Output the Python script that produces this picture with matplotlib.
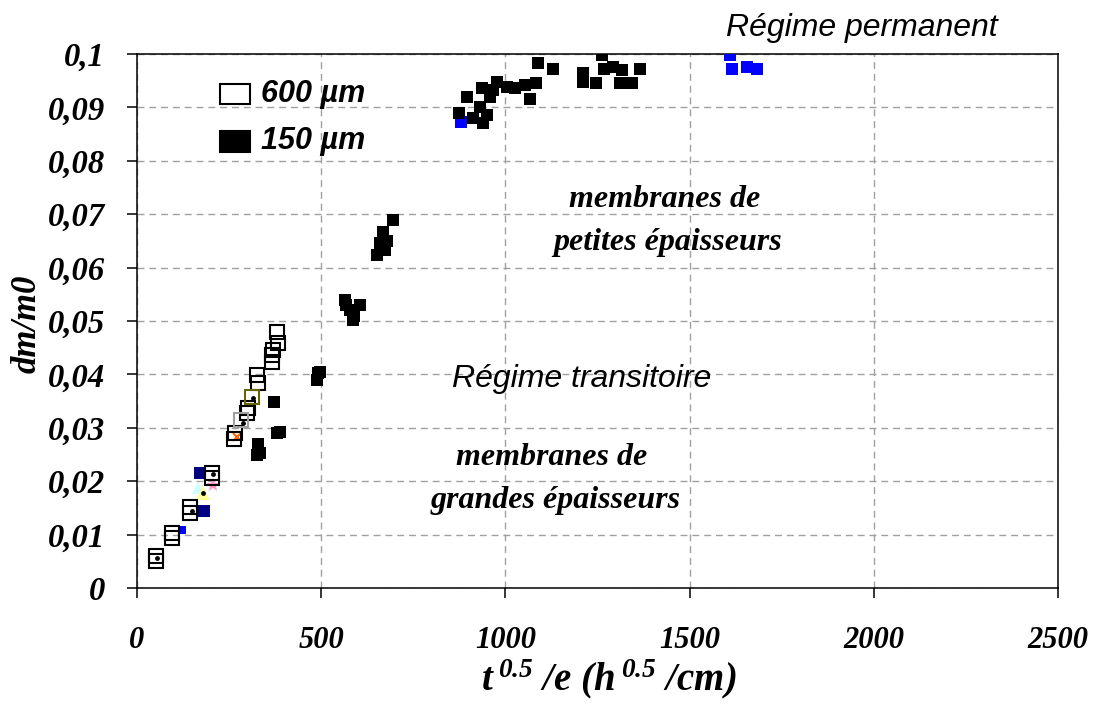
import matplotlib
matplotlib.use('Agg')
import matplotlib.pyplot as plt
from matplotlib.patches import Rectangle
from matplotlib.ticker import FuncFormatter, MultipleLocator

plt.rcParams['font.family'] = 'Liberation Serif'
plt.rcParams['font.weight'] = 'bold'
plt.rcParams['font.style'] = 'italic'
plt.rcParams['axes.labelweight'] = 'bold'
plt.rcParams['mathtext.fontset'] = 'custom'
plt.rcParams['mathtext.rm'] = 'Liberation Serif:bold:italic'
plt.rcParams['mathtext.it'] = 'Liberation Serif:bold:italic'
plt.rcParams['mathtext.bf'] = 'Liberation Serif:bold:italic'
plt.rcParams['mathtext.default'] = 'rm'

# 600 um membranes (open squares)
x600 = [52, 52, 95, 95, 145, 145, 203, 203, 263, 265, 298, 300, 325, 328,
        366, 366, 369, 380, 383]
y600 = [0.0051, 0.0060, 0.0094, 0.0103, 0.0140, 0.0152, 0.0206, 0.0215,
        0.0279, 0.0290, 0.0328, 0.0337, 0.0399, 0.0384, 0.0423, 0.0436,
        0.0446, 0.0480, 0.0459]
# odd series drawn as coloured open squares
x_grey, y_grey = [282], [0.0315]
x_olive, y_olive = [312], [0.0358]

# 150 um membranes (filled squares)
x150 = [372, 380, 388, 328, 325, 335,
        491, 489, 497, 564, 567, 578, 586, 590, 605,
        651, 659, 667, 673, 678, 694,
        874, 895, 912, 931, 939, 949, 958, 936, 966, 976, 1004, 1026, 1053,
        1066, 1083, 1089, 1129, 1211, 1211, 1245, 1261, 1267, 1292, 1316,
        1311, 1343, 1365]
y150 = [0.0348, 0.0290, 0.0293, 0.0270, 0.0250, 0.0253,
        0.0403, 0.0390, 0.0405, 0.0540, 0.0530, 0.0520, 0.0502, 0.0510, 0.0530,
        0.0624, 0.0646, 0.0667, 0.0633, 0.0650, 0.0690,
        0.0890, 0.0920, 0.0880, 0.0900, 0.0870, 0.0886, 0.0920, 0.0936, 0.0933,
        0.0948, 0.0938, 0.0936, 0.0942, 0.0916, 0.0946, 0.0983, 0.0972, 0.0964,
        0.0948, 0.0946, 0.0998, 0.0972, 0.0975, 0.0970, 0.0946, 0.0946, 0.0972]

# steady state (blue)
x_perm = [880, 1609, 1614, 1655, 1682]
y_perm = [0.0872, 0.0998, 0.0972, 0.0975, 0.0972]

# other small series near the origin
x_navy, y_navy = [171, 182], [0.0215, 0.0144]
x_blue, y_blue = [122], [0.0108]
x_yel, y_yel = [180], [0.0178]
x_cyan, y_cyan = [165], [0.0187]
x_pink, y_pink = [206], [0.0192]
x_orng, y_orng = [271], [0.0283]
x_dot = [54, 149, 179, 206, 288, 315]
y_dot = [0.0056, 0.0145, 0.0178, 0.0213, 0.0309, 0.0356]

fig = plt.figure(figsize=(10.95, 7.08), dpi=100)
ax = fig.add_axes([137 / 1095, 120 / 708, 921 / 1095, 534 / 708])

ax.plot(x_perm, y_perm, ls='none', marker='s', ms=8.5, color='#0000FF', mew=0, zorder=3)
ax.plot(x150, y150, ls='none', marker='s', ms=9, color='black', mew=0, zorder=4)
ax.plot(x_navy, y_navy, ls='none', marker='s', ms=8.5, color='#000080', mew=0, zorder=3)
ax.plot(x_blue, y_blue, ls='none', marker='s', ms=5.5, color='#0000FF', mew=0, zorder=3)
ax.plot(x_yel, y_yel, ls='none', marker='^', ms=10, color='#FFFF99', mew=0, zorder=3)
ax.plot(x_cyan, y_cyan, ls='none', marker='^', ms=8, color='#CCFFFF', mew=0, zorder=2.9)
ax.plot(x_pink, y_pink, ls='none', marker='*', ms=10, color='#FF99CC', mew=0, zorder=3)
ax.plot(x_orng, y_orng, ls='none', marker='x', ms=6, color='#FF6600', mew=1.5, zorder=3)
ax.plot(x600, y600, ls='none', marker='s', ms=10.5, mfc='none', mec='black', mew=1.5, zorder=5)
ax.plot(x_grey, y_grey, ls='none', marker='s', ms=10.5, mfc='none', mec='#A0A0A0', mew=1.5, zorder=5)
ax.plot(x_olive, y_olive, ls='none', marker='s', ms=10.5, mfc='none', mec='#666600', mew=1.5, zorder=5)
ax.plot(x_dot, y_dot, ls='none', marker='o', ms=3.5, color='black', mew=0, zorder=6)

ax.set_xlim(0, 2500)
ax.set_ylim(0, 0.1)
ax.xaxis.set_major_locator(MultipleLocator(500))
ax.yaxis.set_major_locator(MultipleLocator(0.01))
ax.yaxis.set_major_formatter(FuncFormatter(
    lambda v, p: '0' if abs(v) < 1e-9 else f'{v:.2f}'.rstrip('0').replace('.', ',')))

ax.set_axisbelow(True)
ax.grid(True, color='#A0A0A0', ls=(0, (5, 3.5)), lw=1)
for s in ax.spines.values():
    s.set_linewidth(1.1)
ax.tick_params(axis='both', direction='out', length=7, width=1.1)
ax.tick_params(axis='x', pad=20, labelsize=22)
ax.tick_params(axis='y', pad=16, labelsize=23.5)

ax.set_xlabel('t$^{\\;0.5}$ /e (h$^{\\;0.5}$ /cm)', fontsize=28, va='baseline')
ax.xaxis.set_label_coords(0.5125, -0.191)
ax.set_ylabel('dm/m0', fontsize=25, va='center')
ax.yaxis.set_label_coords(-0.119, 0.494)

sans = dict(family='Liberation Sans', style='italic', weight='normal', fontsize=23)
ax.text(1967, 0.1034, 'Régime permanent', ha='center', va='baseline', clip_on=False, **sans)
ax.text(1208, 0.0376, 'Régime transitoire', ha='center', va='baseline', **sans)

ax.text(1432, 0.0713, 'membranes de', ha='center', va='baseline', fontsize=23)
ax.text(1441, 0.0633, 'petites épaisseurs', ha='center', va='baseline', fontsize=23)
ax.text(1126, 0.0230, 'membranes de', ha='center', va='baseline', fontsize=23)
ax.text(1137, 0.0150, 'grandes épaisseurs', ha='center', va='baseline', fontsize=23)

# legend
ax.add_patch(Rectangle((0.090, 0.906), 0.0325, 0.038, transform=ax.transAxes,
                       facecolor='white', edgecolor='black', lw=1.5, zorder=7))
ax.add_patch(Rectangle((0.090, 0.8165), 0.0325, 0.0395, transform=ax.transAxes,
                       facecolor='black', edgecolor='black', lw=1.5, zorder=7))
leg = dict(family='Liberation Sans', style='italic', weight='bold', fontsize=22)
ax.text(0.1346, 0.925, '600 µm', transform=ax.transAxes, ha='left', va='center', **leg)
ax.text(0.1346, 0.837, '150 µm', transform=ax.transAxes, ha='left', va='center', **leg)

fig.savefig('out.png', dpi=100, facecolor='white')
